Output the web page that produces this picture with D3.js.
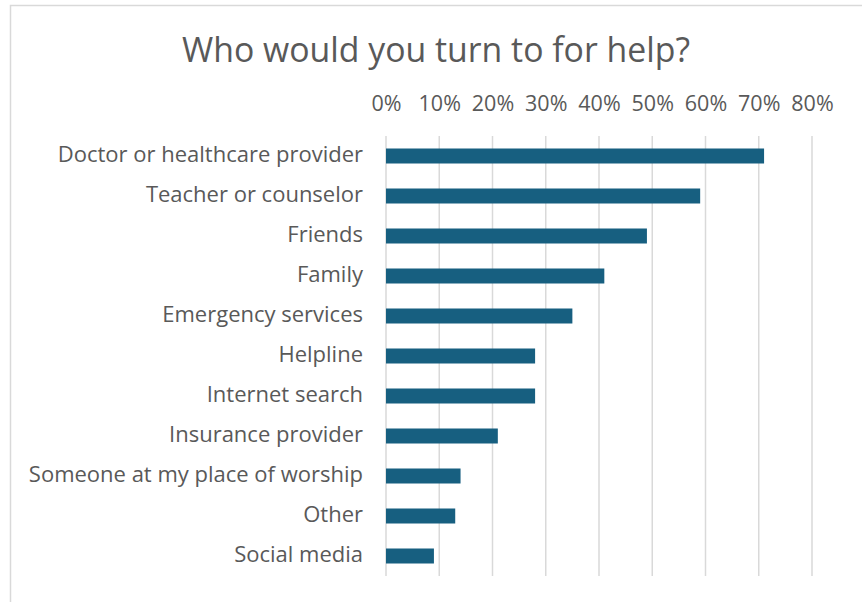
<!DOCTYPE html>
<html>
<head>
<meta charset="utf-8">
<script src="https://cdn.jsdelivr.net/npm/d3@7"></script>
<style>
  html, body { margin: 0; padding: 0; background: #fff; }
  svg { display: block; font-family: "Open Sans", "Noto Sans", sans-serif; }
</style>
</head>
<body>
<svg id="chart" width="862" height="602"></svg>
<script>
// Survey responses: share of respondents naming each source of help
const categories = [
  "Doctor or healthcare provider",
  "Teacher or counselor",
  "Friends",
  "Family",
  "Emergency services",
  "Helpline",
  "Internet search",
  "Insurance provider",
  "Someone at my place of worship",
  "Other",
  "Social media"
];
const values = [0.71, 0.59, 0.49, 0.41, 0.35, 0.28, 0.28, 0.21, 0.14, 0.13, 0.09];
const tickValues = [0, 0.1, 0.2, 0.3, 0.4, 0.5, 0.6, 0.7, 0.8];
const chartTitle = "Who would you turn to for help?";

const svg = d3.select("#chart");
const textColor = "#595959";
const fontStack = "\"Open Sans\", \"Noto Sans\", sans-serif";

// Chart frame
svg.append("rect")
  .attr("x", 10.5).attr("y", 5.5)
  .attr("width", 870).attr("height", 620)
  .attr("fill", "#fff")
  .attr("stroke", "#d9d9d9")
  .attr("stroke-width", 1.5);

const plot = { left: 386, right: 812, top: 136, bottom: 576 };

const x = d3.scaleLinear().domain([0, 0.8]).range([plot.left, plot.right]);
const y = d3.scaleBand().domain(categories).range([plot.top, plot.bottom]).paddingInner(0.625).paddingOuter(0.3125);

// Title
svg.append("text")
  .attr("x", 436).attr("y", 62)
  .attr("text-anchor", "middle")
  .attr("fill", textColor)
  .attr("font-size", 33.8)
  .text(chartTitle);

// Vertical gridlines
svg.append("g")
  .selectAll("line")
  .data(tickValues)
  .join("line")
  .attr("x1", d => x(d)).attr("x2", d => x(d))
  .attr("y1", plot.top).attr("y2", plot.bottom)
  .attr("stroke", "#d9d9d9")
  .attr("stroke-width", 1.5);

// Top axis labels
const xAxis = d3.axisTop(x)
  .tickValues(tickValues)
  .tickFormat(d3.format(".0%"))
  .tickSize(0)
  .tickPadding(0);
const gx = svg.append("g")
  .attr("transform", `translate(0,${111})`)
  .call(xAxis);
gx.select(".domain").remove();
gx.selectAll("text")
  .attr("fill", textColor)
  .attr("font-size", 21.5)
  .attr("font-family", fontStack)
  .attr("dy", 0);

// Category labels
const yAxis = d3.axisLeft(y).tickSize(0).tickPadding(0);
const gy = svg.append("g")
  .attr("transform", `translate(${363},0)`)
  .call(yAxis);
gy.select(".domain").remove();
gy.selectAll("text")
  .attr("fill", textColor)
  .attr("font-size", 22)
  .attr("font-family", fontStack)
  .attr("dy", "0.27em");

// Bars
svg.append("g")
  .selectAll("rect")
  .data(categories.map((c, i) => ({ c, v: values[i] })))
  .join("rect")
  .attr("x", x(0))
  .attr("y", d => y(d.c))
  .attr("width", d => x(d.v) - x(0))
  .attr("height", y.bandwidth())
  .attr("fill", "#175f80");
</script>
</body>
</html>
